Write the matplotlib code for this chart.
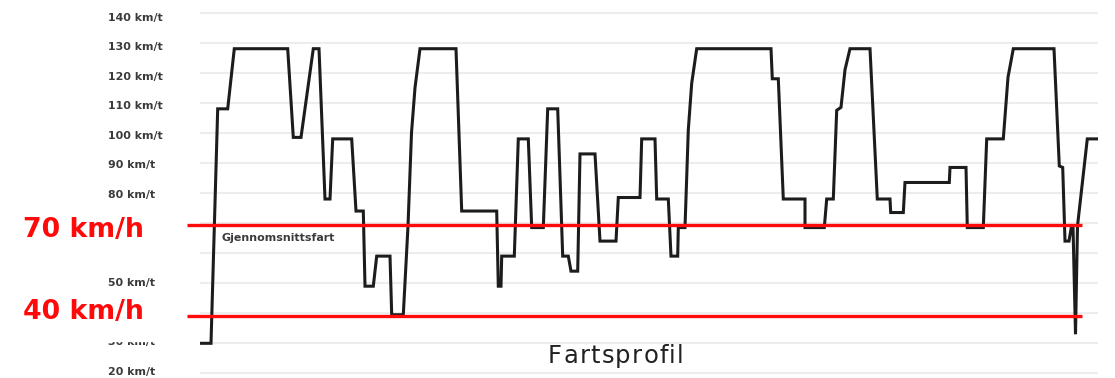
import matplotlib
matplotlib.use("Agg")
import matplotlib.pyplot as plt
from matplotlib.patches import Rectangle

# ---- data (distance along route in arbitrary units, speed in km/t) ----
distance = [1, 11, 17.7, 27.7, 34.3, 87.7, 93.3, 101, 113.3, 119, 125, 130,
            132.7, 151.7, 156, 163.3, 165, 173.3, 176.7, 190, 191.7, 203.3,
            208, 211.5, 215, 220, 256, 261.7, 296.7, 298.3, 301, 301.7, 314.3,
            318.3, 328.3, 331.7, 343.3, 347.7, 357.7, 362.7, 368.3, 371, 377.7,
            380, 395, 400, 416, 418.3, 440, 441.7, 455, 456.7, 468.3, 471,
            477.7, 478.3, 485, 488.3, 491.7, 496.7, 571, 572.3, 578.3, 583.3,
            605, 605, 624.3, 626.7, 633.3, 636.7, 641, 645, 650, 670, 677.3,
            690, 690.7, 703.3, 705, 749.3, 750, 766, 767.3, 783.3, 786.7,
            803.3, 808, 813.3, 854, 859.3, 862.7, 865, 869, 871.5, 873, 875.5,
            877.5, 878.5, 887.3, 898.3]
speed = [30, 30, 108, 108, 128, 128, 98.5, 98.5, 128, 128, 78, 78,
         98, 98, 74, 74, 49, 49, 59, 59, 39.5, 39.5,
         69, 100, 115, 128, 128, 74, 74, 49, 49, 59, 59,
         98, 98, 68.5, 68.5, 108, 108, 59, 59, 54, 54,
         93, 93, 64, 64, 78.5, 78.5, 98, 98, 78, 78, 59,
         59, 68.5, 68.5, 101, 116.5, 128, 128, 118, 118, 78,
         78, 68.5, 68.5, 78, 78, 107.5, 108.5, 121, 128, 128, 78,
         78, 73.5, 73.5, 83.5, 83.5, 88.5, 88.5, 68.5, 68.5, 98,
         98, 118.5, 128, 128, 89, 88.5, 64, 64, 69, 69, 33,
         69, 72, 98, 98]

tick_values = [140, 130, 120, 110, 100, 90, 80, 50, 30, 20]
grid_values = [140, 130, 120, 110, 100, 90, 80, 70, 60, 50, 40, 30, 20]
tick_labels = [f"{v} km/t" for v in tick_values]

ref_values = [69.4, 39.1]
ref_labels = ["70 km/h", "40 km/h"]
avg_label = "Gjennomsnittsfart"
title = "Fartsprofil"

# ---- figure layout (pixel based) ----
W, H = 1115, 378
fig = plt.figure(figsize=(W / 100, H / 100), dpi=100)
fig.patch.set_facecolor("white")

x0_px, x1_px = 200, 1098
y_top_val, y_bot_val = 142.0, 18.5
px_per_unit = 3.006
y130_px = 42.7
top_px = y130_px - (y_top_val - 130) * px_per_unit
bot_px = y130_px + (130 - y_bot_val) * px_per_unit
ax = fig.add_axes([x0_px / W, 1 - bot_px / H, (x1_px - x0_px) / W, (bot_px - top_px) / H])
ax.set_xlim(0, x1_px - x0_px)
ax.set_ylim(y_bot_val, y_top_val)
for s in ax.spines.values():
    s.set_visible(False)
ax.set_xticks([])
ax.set_yticks([])
ax.set_facecolor("white")

for v in grid_values:
    ax.axhline(v, color="#ededed", lw=1.5, zorder=1)

ax.plot(distance, speed, color="#1c1c1c", lw=2.2, solid_joinstyle="miter", zorder=3)

# red reference lines (extend slightly left of plot area)
for v in ref_values:
    ax.plot([187 - x0_px, 1082 - x0_px], [v, v], color="#ff0a0a", lw=2.4,
            zorder=4, clip_on=False, solid_capstyle="butt")

# y labels (left aligned)
for v, lab in zip(tick_values, tick_labels):
    p = 17.7 + (140 - v) * 2.95
    fig.text(108 / W, 1 - p / H, lab, ha="left", va="center",
             fontsize=7.9, fontweight="bold", color="#3a3a3a", family="DejaVu Sans")
# partially hidden 30 label
fig.patches.append(Rectangle((100 / W, 1 - 341 / H), 70 / W, 10 / H,
                             transform=fig.transFigure, color="white", zorder=10))

# red labels
fig.text(23 / W, 1 - 230 / H, ref_labels[0], ha="left", va="center",
         fontsize=19.3, fontweight="bold", color="#ff0a0a", family="DejaVu Sans")
fig.text(23 / W, 1 - 312 / H, ref_labels[1], ha="left", va="center",
         fontsize=19.3, fontweight="bold", color="#ff0a0a", family="DejaVu Sans")

fig.text(222 / W, 1 - 238 / H, avg_label, ha="left", va="center",
         fontsize=7.9, fontweight="bold", color="#3a3a3a", family="DejaVu Sans")

# title with slight letter spacing
renderer = fig.canvas.get_renderer()
x_px = 548.0
tracking = 1.2
for ch in title:
    t = fig.text(x_px / W, 1 - 363 / H, ch, ha="left", va="baseline",
                 fontsize=17.5, color="#222222", family="DejaVu Sans")
    x_px += t.get_window_extent(renderer).width + tracking

fig.savefig("out.png", dpi=100, facecolor="white")
